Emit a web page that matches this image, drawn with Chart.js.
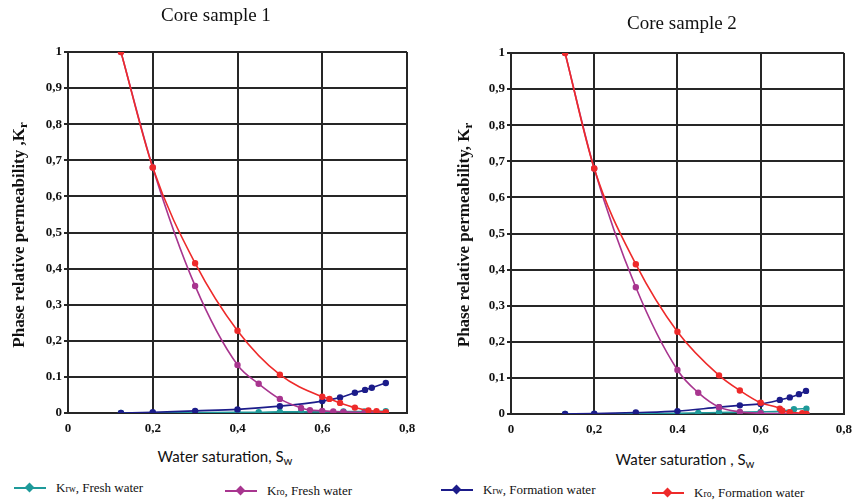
<!DOCTYPE html>
<html>
<head>
<meta charset="utf-8">
<script src="https://cdn.jsdelivr.net/npm/chart.js@4.4.1/dist/chart.umd.min.js"></script>
<style>
  body { margin: 0; background: #fff; width: 860px; height: 502px; position: relative; overflow: hidden; }
  .panel { position: absolute; top: 0; width: 430px; height: 440px; }
  .ttl { position: absolute; font-family: "Liberation Serif", serif; font-size: 19px; color: #111; white-space: nowrap; transform: translateX(-50%); }
  .ytl { position: absolute; font-family: "Liberation Serif", serif; font-weight: bold; font-size: 17px; color: #111; white-space: nowrap;
         transform: translate(-50%, -50%) rotate(-90deg); }
  .xtl { position: absolute; font-family: Lato, sans-serif; font-size: 15px; color: #111; white-space: nowrap; transform: translateX(-50%); }
  sub { font-size: 0.75em; vertical-align: -0.25em; }
  .leg { position: absolute; font-family: "Liberation Serif", serif; font-size: 13px; color: #111; white-space: nowrap; display: flex; align-items: center; }
  .leg .ln { display: inline-block; width: 32px; height: 2px; position: relative; margin-right: 10px; }
  .leg .dm { position: absolute; left: 12px; top: -3px; width: 7px; height: 7px; transform: rotate(45deg); }
</style>
</head>
<body>
<div class="panel" style="left:0"><canvas id="c1"></canvas></div>
<div class="panel" style="left:430px"><canvas id="c2"></canvas></div>

<div class="ttl" style="left:216px; top:4px">Core sample 1</div>
<div class="ttl" style="left:682px; top:12px">Core sample 2</div>
<div class="ytl" style="left:20px; top:235px">Phase relative permeability ,K<sub>r</sub></div>
<div class="ytl" style="left:465px; top:235px">Phase relative permeability, K<sub>r</sub></div>
<div class="xtl" style="left:225px; top:447px">Water saturation, S<sub>w</sub></div>
<div class="xtl" style="left:685px; top:450px">Water saturation , S<sub>w</sub></div>

<div class="leg" style="left:14px; top:480px"><span class="ln" style="background:#1e9a9a"><span class="dm" style="background:#1e9a9a"></span></span>K<sub>rw</sub>, Fresh water</div>
<div class="leg" style="left:225px; top:483px"><span class="ln" style="background:#a8358f"><span class="dm" style="background:#a8358f"></span></span>K<sub>ro</sub>, Fresh water</div>
<div class="leg" style="left:441px; top:482px"><span class="ln" style="background:#1c1c8a"><span class="dm" style="background:#1c1c8a"></span></span>K<sub>rw</sub>, Formation water</div>
<div class="leg" style="left:652px; top:485px"><span class="ln" style="background:#ee2a2a"><span class="dm" style="background:#ee2a2a"></span></span>K<sub>ro</sub>, Formation water</div>

<script>
// Core sample 1
const s1KroFormX = [0.125, 0.2, 0.3, 0.4, 0.5, 0.6, 0.617, 0.642, 0.677, 0.709, 0.728, 0.75];
const s1KroFormY = [1.0, 0.68, 0.415, 0.228, 0.106, 0.045, 0.039, 0.028, 0.015, 0.007, 0.005, 0.002];
const s1KroFreshX = [0.125, 0.2, 0.3, 0.4, 0.45, 0.5, 0.55, 0.571, 0.6, 0.626, 0.65, 0.7, 0.75];
const s1KroFreshY = [1.0, 0.68, 0.352, 0.133, 0.081, 0.039, 0.014, 0.008, 0.006, 0.004, 0.003, 0.001, 0.0];
const s1KrwFormX = [0.125, 0.2, 0.3, 0.4, 0.5, 0.6, 0.642, 0.677, 0.701, 0.717, 0.75];
const s1KrwFormY = [0.0, 0.002, 0.006, 0.01, 0.019, 0.033, 0.043, 0.056, 0.064, 0.07, 0.083];
const s1KrwFreshX = [0.125, 0.2, 0.3, 0.4, 0.45, 0.5, 0.55, 0.6, 0.65, 0.7, 0.75];
const s1KrwFreshY = [0.0, 0.0, 0.001, 0.002, 0.002, 0.003, 0.003, 0.003, 0.004, 0.004, 0.005];

// Core sample 2
const s2KroFormX = [0.13, 0.2, 0.3, 0.4, 0.5, 0.55, 0.6, 0.646, 0.652, 0.67, 0.7, 0.71];
const s2KroFormY = [1.0, 0.68, 0.415, 0.228, 0.107, 0.065, 0.031, 0.015, 0.009, 0.005, 0.002, 0.0];
const s2KroFreshX = [0.13, 0.2, 0.3, 0.4, 0.45, 0.5, 0.55, 0.6, 0.65, 0.71];
const s2KroFreshY = [1.0, 0.68, 0.351, 0.122, 0.059, 0.019, 0.006, 0.002, 0.001, 0.0];
const s2KrwFormX = [0.13, 0.2, 0.3, 0.4, 0.5, 0.55, 0.6, 0.646, 0.67, 0.692, 0.709];
const s2KrwFormY = [0.0, 0.001, 0.004, 0.008, 0.019, 0.024, 0.028, 0.039, 0.046, 0.055, 0.064];
const s2KrwFreshX = [0.13, 0.2, 0.3, 0.4, 0.45, 0.5, 0.55, 0.6, 0.65, 0.68, 0.71];
const s2KrwFreshY = [0.0, 0.0, 0.001, 0.002, 0.003, 0.004, 0.005, 0.006, 0.008, 0.013, 0.015];

// Etiquetas de los ejes (tal cual en la figura)
const yLabels1 = ['0', '0.1', '0,2', '0,3', '0,4', '0,5', '0,6', '0,7', '0,8', '0,9', '1'];
const yLabels2 = ['0', '0,1', '0,2', '0,3', '0,4', '0,5', '0,6', '0,7', '0,8', '0,9', '1'];
const xLabels1 = ['0', '0,2', '0,4', '0,6', '0,8'];
const xLabels2 = ['0', '0,2', '0.4', '0,6', '0,8'];

const colors = { krwFresh: '#1e9a9a', kroFresh: '#a8358f', krwForm: '#1c1c8a', kroForm: '#ee2a2a' };

function pts(xs, ys) {
    return xs.map((x, i) => ({ x: x, y: ys[i] }));
}

function ds(xs, ys, color) {
    return {
        data: pts(xs, ys),
        showLine: true,
        borderColor: color,
        backgroundColor: color,
        borderWidth: 1.6,
        pointRadius: 2.4,
        pointHoverRadius: 2.4,
        cubicInterpolationMode: 'monotone',
    };
}

function makeChart(id, sets, yLabels, xLabels, pad, yWidth, xHeight) {
    const tickFont = { family: 'Liberation Serif', size: 13, weight: 'bold' };
    return new Chart(document.getElementById(id).getContext('2d'), {
        type: 'scatter',
        data: { datasets: sets },
        options: {
            responsive: true,
            maintainAspectRatio: false,
            animation: false,
            layout: { padding: pad },
            plugins: { legend: { display: false }, tooltip: { enabled: false } },
            scales: {
                x: {
                    min: 0, max: 0.8,
                    ticks: { stepSize: 0.2, color: '#111', font: tickFont, padding: 8,
                             callback: (v) => xLabels[Math.round(v / 0.2)] },
                    grid: { color: '#262626', lineWidth: 2, tickLength: 0 },
                    border: { color: '#262626', width: 2 },
                    afterFit: (s) => { s.height = xHeight; },
                },
                y: {
                    min: 0, max: 1,
                    ticks: { stepSize: 0.1, color: '#111', font: tickFont, padding: 2,
                             callback: (v) => yLabels[Math.round(v * 10)] },
                    grid: { color: '#262626', lineWidth: 2, tickLength: 4 },
                    border: { color: '#262626', width: 2 },
                    afterFit: (s) => { s.width = yWidth; },
                },
            },
        },
    });
}

makeChart('c1', [
    ds(s1KroFormX, s1KroFormY, colors.kroForm),
    ds(s1KroFreshX, s1KroFreshY, colors.kroFresh),
    ds(s1KrwFormX, s1KrwFormY, colors.krwForm),
    ds(s1KrwFreshX, s1KrwFreshY, colors.krwFresh),
], yLabels1, xLabels1, { left: 0, right: 23, top: 52, bottom: 0 }, 68, 27);

makeChart('c2', [
    ds(s2KroFormX, s2KroFormY, colors.kroForm),
    ds(s2KroFreshX, s2KroFreshY, colors.kroFresh),
    ds(s2KrwFormX, s2KrwFormY, colors.krwForm),
    ds(s2KrwFreshX, s2KrwFreshY, colors.krwFresh),
], yLabels2, xLabels2, { left: 0, right: 11, top: 53, bottom: 0 }, 81, 26);
</script>
</body>
</html>
